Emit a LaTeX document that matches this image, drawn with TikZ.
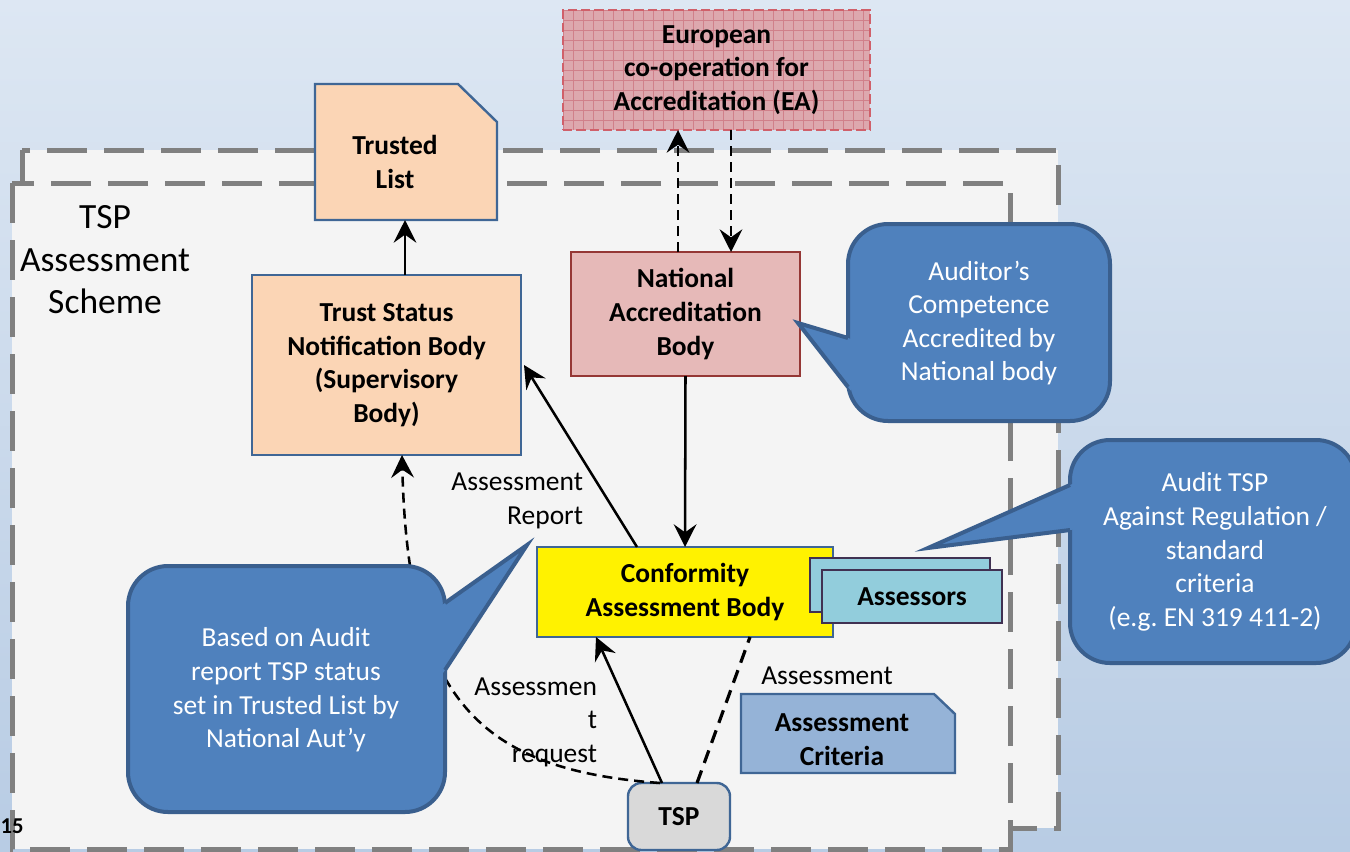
\documentclass[tikz,border=0pt]{standalone}
\usepackage{fontspec}
\setmainfont{Carlito}
\usetikzlibrary{arrows.meta,calc}
\definecolor{bgtop}{HTML}{DDE7F3}
\definecolor{bgbot}{HTML}{B8CCE4}
\definecolor{innerfill}{HTML}{F4F4F4}
\definecolor{dashgray}{HTML}{808080}
\definecolor{peach}{HTML}{FBD5B5}
\definecolor{boxblue}{HTML}{3F6695}
\definecolor{nabfill}{HTML}{E6B9B8}
\definecolor{nabline}{HTML}{953735}
\definecolor{eafill}{HTML}{DDA8AE}
\definecolor{eagrid}{HTML}{D0808A}
\definecolor{ealine}{HTML}{D0606A}
\definecolor{callfill}{HTML}{4F81BD}
\definecolor{callline}{HTML}{3A5F8E}
\definecolor{asfill}{HTML}{92CDDC}
\definecolor{asline}{HTML}{403152}
\definecolor{acfill}{HTML}{95B3D7}
\definecolor{tspfill}{HTML}{D9D9D9}
\frenchspacing
\begin{document}
\begin{tikzpicture}[x=0.75pt,y=-0.75pt,
  every node/.style={font=\fontsize{20.6}{25.2}\selectfont, align=center, inner sep=0pt, outer sep=0pt},
  bf/.style={font=\fontsize{20.6}{25.2}\selectfont\bfseries},
  bluebox/.style={draw=boxblue, line width=1.8pt},
  dashrect/.style={draw=dashgray, fill=innerfill, line width=3.75pt, dash pattern=on 30pt off 12.75pt},
  arr/.style={line width=1.9pt, -{Stealth[length=17pt,width=17pt,inset=6pt]}},
  darr/.style={line width=1.9pt, dash pattern=on 7.5pt off 4.5pt, -{Stealth[length=17pt,width=17pt,inset=6pt]}},
  dline/.style={line width=2.4pt, dash pattern=on 10pt off 6pt},
  callout/.style={draw=callline, fill=callfill, line width=3pt},
  ptr/.style={draw=callline, line width=3pt, line join=miter},
  ctext/.style={text=white}]

\shade[top color=bgtop, bottom color=bgbot] (0,0) rectangle (1350,851);
\path[use as bounding box] (0,0) rectangle (1350,851);

% scheme frames
\draw[dashrect] (22,150) rectangle (1058,828);
\draw[dashrect] (12,183) rectangle (1010,849);

\node[font=\fontsize{26.6}{31.9}\selectfont] (scheme) at (105,260) {TSP\\Assessment\\Scheme};
\node[font=\fontsize{17}{20}\selectfont\bfseries] (pg) at (12,826) {15};

% boxes
\node[bf, draw=ealine, line width=2pt, dash pattern=on 7pt off 3pt, fill=eafill,
      minimum width=230.25pt, minimum height=90pt,
      path picture={\draw[eagrid, solid, line width=0.5pt, step=7.5pt]
        (path picture bounding box.south west) grid (path picture bounding box.north east);}]
  (ea) at (716.5,70) {European\\co-operation for\\Accreditation (EA)};

% Trusted List (document shape with cut corner)
\path node[minimum width=136.5pt, minimum height=102pt] (tl) at (406,152) {};
\filldraw[bluebox, fill=peach] (tl.south west) -- (tl.north west) -- ($(tl.north east)+(-39,0)$)
  -- ($(tl.north east)+(0,38)$) -- (tl.south east) -- cycle;
\node[bf] (tltext) at ($(tl.center)+(-11,10)$) {Trusted\\List};

\node[bluebox, bf, fill=peach, minimum width=201.75pt, minimum height=135pt] (tsnb) at (386.5,365)
  {Trust Status\\Notification Body\\(Supervisory\\Body)};

\node[bf, draw=nabline, line width=1.6pt, fill=nabfill, minimum width=171.75pt, minimum height=93pt]
  (nab) at (685.5,314) {National\\Accreditation\\Body};

\node[bluebox, bf, fill=yellow, minimum width=222pt, minimum height=67.5pt] (cab) at (685,592)
  {Conformity\\Assessment Body};

\node[draw=asline, line width=1.2pt, fill=asfill, minimum width=135pt, minimum height=40.5pt] (asb) at (900,585) {};
\node[bf, draw=asline, line width=1.2pt, fill=asfill, minimum width=135pt, minimum height=39.75pt] (as) at (912,596.5) {Assessors};

% Assessment Criteria (document shape with cut corner)
\path node[minimum width=160.5pt, minimum height=59.25pt] (ac) at (848,733.5) {};
\filldraw[bluebox, fill=acfill] (ac.south west) -- (ac.north west) -- ($(ac.north east)+(-21,0)$)
  -- ($(ac.north east)+(0,20)$) -- (ac.south east) -- cycle;
\node[bf] (actext) at ($(ac.center)+(-6,6)$) {Assessment\\Criteria};

\node[bluebox, bf, fill=tspfill, rounded corners=10pt, minimum width=76.5pt, minimum height=50.25pt]
  (tsp) at (679,816.5) {TSP};

% connectors
\draw[arr] ($(tsnb.north)+(18.5,0)$) -- ($(tl.south)+(-1,0)$);
\draw[arr] ($(cab.north)+(-48,0)$) -- ($(tsnb.east)+(3,0)$);
\draw[arr] (nab.south) -- (cab.north);
\draw[darr] ($(nab.north)+(-7.5,0)$) -- ($(ea.south)+(-38.5,0)$);
\draw[darr] ($(ea.south)+(14.5,0)$) -- ($(nab.north)+(45.5,0)$);
\draw[arr] ($(tsp.north)+(-17,0)$) -- ($(cab.south)+(-89,0)$);
\draw[dline] ($(tsp.north)+(18,0)$) -- ($(cab.south)+(65,0)$);
\draw[darr] ($(tsp.north)+(-19,0)$) .. controls (480,770) and (408,700) .. ($(tsnb.south)+(15.5,0)$);

% labels
\node[anchor=east, align=right] (lrep) at (583,501) {Assessment\\Report};
\node[anchor=east, align=right] (lreq) at (597,722) {Assessmen\\t\\request};
\node (lass) at (827,676) {Assessment};

% callout 1
\draw[callout, rounded corners=30pt] (848,224) rectangle (1110,421);
\fill[callfill] (798,323) -- (851,338.9) -- (851,390.8) -- cycle;
\draw[ptr] (848,338) -- (798,323) -- (848,387);
\node[ctext] (c1) at (979,323) {Auditor’s\\Competence\\Accredited by\\National body};

% callout 2
\draw[callout, rounded corners=30pt] (1070,440) rectangle (1356,663);
\fill[callfill] (928,548) -- (1073,483.7) -- (1073,529.6) -- cycle;
\draw[ptr] (1070,485) -- (928,548) -- (1070,530);
\node[ctext] (c2) at (1215,552) {Audit TSP\\Against Regulation /\\standard\\criteria\\(e.g. EN 319 411-2)};

% callout 3
\draw[callout, rounded corners=30pt] (128,566) rectangle (445,812);
\fill[callfill] (527,545) -- (442,605.1) -- (442,674.6) -- cycle;
\draw[ptr] (445,603) -- (527,545) -- (445,670);
\node[ctext] (c3) at (286,690) {Based on Audit\\report TSP status\\set in Trusted List by\\National Aut’y};

\end{tikzpicture}
\end{document}
